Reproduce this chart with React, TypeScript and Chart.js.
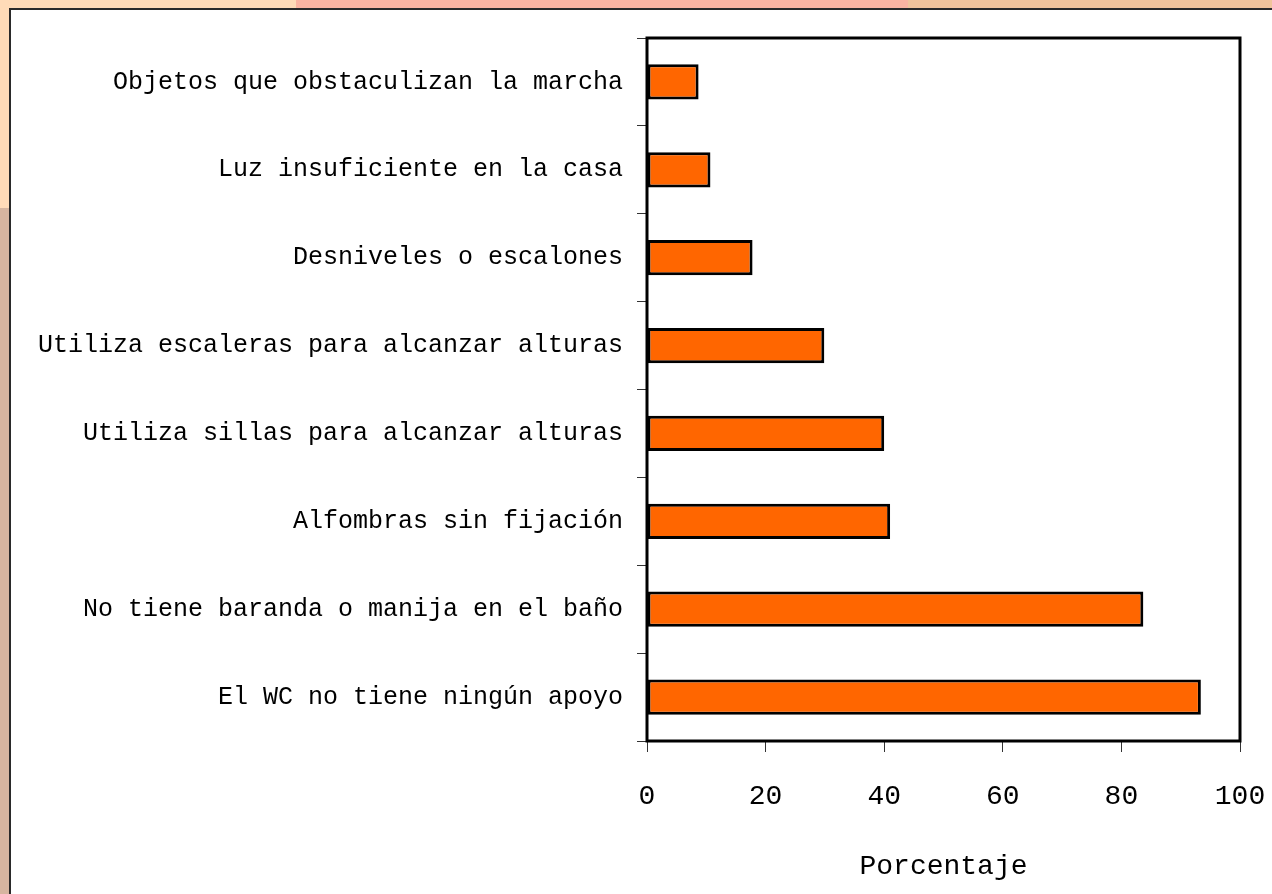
import React, { useEffect, useRef } from "react";
import { Chart, registerables } from "chart.js";

Chart.register(...registerables);

const categories: string[] = [
  "Objetos que obstaculizan la marcha",
  "Luz insuficiente en la casa",
  "Desniveles o escalones",
  "Utiliza escaleras para alcanzar alturas",
  "Utiliza sillas para alcanzar alturas",
  "Alfombras sin fijación",
  "No tiene baranda o manija en el baño",
  "El WC no tiene ningún apoyo",
];

const porcentajes: number[] = [8.7, 10.7, 17.8, 29.9, 40.0, 41.0, 83.7, 93.4];

const xTicks: number[] = [0, 20, 40, 60, 80, 100];
const axisTitle = "Porcentaje";

const FONT = "'Liberation Mono', 'DejaVu Sans Mono', monospace";

const frameBorder = {
  id: "frameBorder",
  afterDraw(chart: any) {
    const { ctx, chartArea } = chart;
    ctx.save();
    ctx.strokeStyle = "#000000";
    ctx.lineWidth = 3;
    ctx.strokeRect(
      chartArea.left,
      chartArea.top,
      chartArea.right - chartArea.left,
      chartArea.bottom - chartArea.top
    );
    ctx.restore();
  },
};

export default function App() {
  const canvasRef = useRef<HTMLCanvasElement | null>(null);

  useEffect(() => {
    document.body.style.margin = "0";
    const canvas = canvasRef.current;
    if (!canvas) return;
    const chart = new Chart(canvas, {
      type: "bar",
      data: {
        labels: categories,
        datasets: [
          {
            label: axisTitle,
            data: porcentajes,
            backgroundColor: "#FF6600",
            borderColor: "#000000",
            borderWidth: 3,
            borderSkipped: false,
            barPercentage: 0.4,
            categoryPercentage: 1,
          },
        ],
      },
      options: {
        indexAxis: "y",
        animation: false,
        responsive: false,
        maintainAspectRatio: false,
        events: [],
        layout: { padding: { left: 0, right: 32, top: 38, bottom: 0 } },
        plugins: {
          legend: { display: false },
          tooltip: { enabled: false },
        },
        scales: {
          x: {
            type: "linear",
            min: 0,
            max: 100,
            afterBuildTicks: (scale: any) => {
              scale.ticks = xTicks.map((v) => ({ value: v }));
            },
            afterFit: (scale: any) => {
              scale.height = 153;
              scale.paddingLeft = 0;
              scale.paddingRight = 0;
            },
            grid: {
              drawOnChartArea: false,
              drawTicks: true,
              tickLength: 11,
              color: "#333333",
              lineWidth: 1,
            },
            border: { display: false },
            ticks: {
              padding: 28,
              color: "#000000",
              font: { family: FONT, size: 28 },
              maxRotation: 0,
              autoSkip: false,
            },
            title: {
              display: true,
              text: axisTitle,
              color: "#000000",
              font: { family: FONT, size: 28 },
              padding: { top: 0, bottom: 11 },
            },
          },
          y: {
            type: "category",
            afterFit: (scale: any) => {
              scale.width = 647;
              scale.paddingTop = 0;
              scale.paddingBottom = 0;
            },
            grid: {
              offset: true,
              drawOnChartArea: false,
              drawTicks: true,
              tickLength: 10,
              color: "#333333",
              lineWidth: 1,
            },
            border: { display: false },
            ticks: {
              padding: 14,
              color: "#000000",
              font: { family: FONT, size: 25 },
              autoSkip: false,
            },
          },
        },
      },
      plugins: [frameBorder],
    } as any);
    return () => chart.destroy();
  }, []);

  return (
    <div
      style={{
        position: "fixed",
        left: 0,
        top: 0,
        width: 1272,
        height: 894,
        overflow: "hidden",
        background: "#F1C49C",
      }}
    >
      <div style={{ position: "absolute", left: 0, top: 0, width: 296, height: 9, background: "#FFDBB8" }} />
      <div style={{ position: "absolute", left: 296, top: 0, width: 612, height: 9, background: "#FBB4A2" }} />
      <div style={{ position: "absolute", left: 0, top: 0, width: 9, height: 208, background: "#FFDBB8" }} />
      <div style={{ position: "absolute", left: 0, top: 208, width: 9, height: 686, background: "#D6B5A0" }} />
      <div
        style={{
          position: "absolute",
          left: 9,
          top: 8,
          width: 1300,
          height: 1000,
          background: "#FFFFFF",
          borderLeft: "2px solid #2A2A2A",
          borderTop: "2px solid #2A2A2A",
        }}
      />
      <canvas
        ref={canvasRef}
        width={1272}
        height={894}
        style={{ position: "absolute", left: 0, top: 0, width: 1272, height: 894 }}
      />
    </div>
  );
}
